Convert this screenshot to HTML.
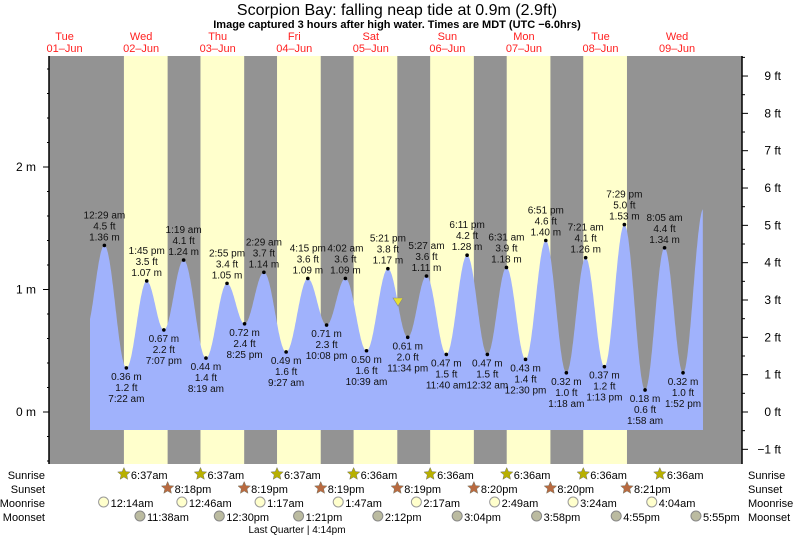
<!DOCTYPE html>
<html><head><meta charset="utf-8"><style>
html,body{margin:0;padding:0;background:#fff;}
svg{display:block;font-family:"Liberation Sans",sans-serif;}
</style></head><body>
<svg id="s" width="793" height="538" xmlns="http://www.w3.org/2000/svg">
<text x="397" y="15" font-size="16" text-anchor="middle">Scorpion Bay: falling  neap tide at 0.9m (2.9ft)</text>
<text x="397" y="28" font-size="11" font-weight="bold" text-anchor="middle">Image captured 3 hours after high water. Times are MDT (UTC −6.0hrs)</text>
<g id="g"></g>
</svg>
<script>
const NS="http://www.w3.org/2000/svg";
const g=document.getElementById('g');
function el(t,a,txt){const e=document.createElementNS(NS,t);for(const k in a)e.setAttribute(k,a[k]);if(txt!==undefined)e.textContent=txt;g.appendChild(e);return e;}
const X=h=>26.3+3.19*h, Y=m=>412-122.5*m;
const L=49,R=742,T=56,B=464;
el('rect',{x:L,y:T,width:R-L,height:B-T,fill:'#939393'});
for(let d=1;d<=7;d++){const a=X(d*24+6.6),b=X(d*24+20.3);el('rect',{x:a,y:T,width:b-a,height:B-T,fill:'#ffffcc'});}
const ex=[[0,18.5,0.66],
[1,0.48,1.36],[1,7.37,0.36],[1,13.75,1.07],[1,19.12,0.67],
[2,1.32,1.24],[2,8.32,0.44],[2,14.92,1.05],[2,20.42,0.72],
[3,2.48,1.14],[3,9.45,0.49],[3,16.25,1.09],[3,22.13,0.71],
[4,4.03,1.09],[4,10.65,0.50],[4,17.35,1.17],[4,23.57,0.61],
[5,5.45,1.11],[5,11.67,0.47],[5,18.18,1.28],
[6,0.53,0.47],[6,6.52,1.18],[6,12.5,0.43],[6,18.85,1.40],
[7,1.3,0.32],[7,7.35,1.26],[7,13.22,0.37],[7,19.48,1.53],
[8,1.97,0.18],[8,8.08,1.34],[8,13.87,0.32],[8,20.3,1.66]];
const pts=ex.map(e=>[e[0]*24+e[1],e[2]]);
function lv(h){for(let i=0;i<pts.length-1;i++){const[a,va]=pts[i],[b,vb]=pts[i+1];if(h>=a&&h<=b){const f=(1-Math.cos(Math.PI*(h-a)/(b-a)))/2;return va+(vb-va)*f;}}return pts[pts.length-1][1];}
const h0=(90-26.3)/3.19,h1=(703-26.3)/3.19;let d=`M90 430`;
for(let h=h0;h<=h1;h+=0.1)d+=` L${X(h).toFixed(1)} ${Y(lv(h)).toFixed(1)}`;
d+=` L703 430 Z`;el('path',{d,fill:'#a0b2fc'});
const lbl=[[1,0.48,1.36,'12:29 am'],[1,7.37,0.36,'7:22 am'],[1,13.75,1.07,'1:45 pm'],[1,19.12,0.67,'7:07 pm'],
[2,1.32,1.24,'1:19 am'],[2,8.32,0.44,'8:19 am'],[2,14.92,1.05,'2:55 pm'],[2,20.42,0.72,'8:25 pm'],
[3,2.48,1.14,'2:29 am'],[3,9.45,0.49,'9:27 am'],[3,16.25,1.09,'4:15 pm'],[3,22.13,0.71,'10:08 pm'],
[4,4.03,1.09,'4:02 am'],[4,10.65,0.50,'10:39 am'],[4,17.35,1.17,'5:21 pm'],[4,23.57,0.61,'11:34 pm'],
[5,5.45,1.11,'5:27 am'],[5,11.67,0.47,'11:40 am'],[5,18.18,1.28,'6:11 pm'],
[6,0.53,0.47,'12:32 am'],[6,6.52,1.18,'6:31 am'],[6,12.5,0.43,'12:30 pm'],[6,18.85,1.40,'6:51 pm'],
[7,1.3,0.32,'1:18 am'],[7,7.35,1.26,'7:21 am'],[7,13.22,0.37,'1:13 pm'],[7,19.48,1.53,'7:29 pm'],
[8,1.97,0.18,'1:58 am'],[8,8.08,1.34,'8:05 am'],[8,13.87,0.32,'1:52 pm']];
const ft={1.36:'4.5',0.36:'1.2',1.07:'3.5',0.67:'2.2',1.24:'4.1',0.44:'1.4',1.05:'3.4',0.72:'2.4',1.14:'3.7',0.49:'1.6',1.09:'3.6',0.71:'2.3',0.50:'1.6',1.17:'3.8',0.61:'2.0',1.11:'3.6',0.47:'1.5',1.28:'4.2',1.18:'3.9',0.43:'1.4',1.40:'4.6',0.32:'1.0',1.26:'4.1',0.37:'1.2',1.53:'5.0',0.18:'0.6',1.34:'4.4'};
lbl.forEach((l,i)=>{const x=X(l[0]*24+l[1]),y=Y(l[2]);el('circle',{cx:x,cy:y,r:1.8,fill:'#000'});
const high=(i>0?l[2]>lbl[i-1][2]:true)&&l[2]>0.9;const f=ft[l[2].toFixed(2)]||ft[l[2]]||'';
const a={'font-size':10,'text-anchor':'middle',fill:'#111'};
if(high){el('text',Object.assign({x,y:y-27},a),l[3]);el('text',Object.assign({x,y:y-16},a),f+' ft');el('text',Object.assign({x,y:y-5},a),l[2].toFixed(2)+' m');}
else{el('text',Object.assign({x,y:y+12},a),l[2].toFixed(2)+' m');el('text',Object.assign({x,y:y+23},a),f+' ft');el('text',Object.assign({x,y:y+34},a),l[3]);}
});
el('path',{d:'M393 298 L403 298 L398 306 Z',fill:'#e8e030',stroke:'#888','stroke-width':0.6});
el('line',{x1:L,y1:T,x2:L,y2:B,stroke:'#000','stroke-width':1.5});
el('line',{x1:R,y1:T,x2:R,y2:B,stroke:'#000','stroke-width':1.5});
for(let m=-0.4;m<=2.95;m+=0.2){const y=Y(m);if(y<T||y>B)continue;const maj=Math.abs(m-Math.round(m))<0.01;el('line',{x1:L-(maj?6:2),y1:y,x2:L,y2:y,stroke:'#000'});
if(maj)el('text',{x:36,y:y+4,'font-size':12,'text-anchor':'end'},Math.round(m)+' m');}
for(let f=-1.5;f<=9.6;f+=0.5){const y=412-37.33*f;if(y<T||y>B)continue;const maj=Math.abs(f-Math.round(f))<0.01;el('line',{x1:R,y1:y,x2:R+(maj?6:3),y2:y,stroke:'#000'});
if(maj)el('text',{x:781,y:y+4,'font-size':12,'text-anchor':'end'},(f<0?'−1':Math.round(f))+' ft');}
const dn=['Tue','Wed','Thu','Fri','Sat','Sun','Mon','Tue','Wed'];
dn.forEach((n,i)=>{const x=X(i*24+12);el('text',{x,y:40,'font-size':11,'text-anchor':'middle',fill:'#ff2020'},n);el('text',{x,y:52,'font-size':11,'text-anchor':'middle',fill:'#ff2020'},'0'+(i+1)+'–Jun');});
const rows=[['Sunrise',479],['Sunset',493],['Moonrise',507],['Moonset',521]];
rows.forEach(r=>{el('text',{x:45,y:r[1],'font-size':11,'text-anchor':'end'},r[0]);el('text',{x:748,y:r[1],'font-size':11},r[0]);});
function star(cx,cy,c){let p='';for(let k=0;k<10;k++){const a=-Math.PI/2+k*Math.PI/5,rr=k%2?3:6.5;p+=(k?'L':'M')+(cx+rr*Math.cos(a)).toFixed(1)+' '+(cy+rr*Math.sin(a)).toFixed(1);}el('path',{d:p+'Z',fill:c,stroke:'#776',"stroke-width":0.5});}
const srT=['6:37am','6:37am','6:37am','6:36am','6:36am','6:36am','6:36am','6:36am'];
srT.forEach((t,i)=>{const x=X((i+1)*24+6.6);star(x,474,'#b8b000');el('text',{x:x+7,y:479,'font-size':11},t);});
const ssT=['8:18pm','8:19pm','8:19pm','8:19pm','8:20pm','8:20pm','8:21pm'];
ssT.forEach((t,i)=>{const x=X((i+1)*24+20.3);star(x,488,'#b86a40');el('text',{x:x+7,y:493,'font-size':11},t);});
const mr=[[1,0.23,'12:14am'],[2,0.77,'12:46am'],[3,1.28,'1:17am'],[4,1.78,'1:47am'],[5,2.28,'2:17am'],[6,2.82,'2:49am'],[7,3.4,'3:24am'],[8,4.07,'4:04am']];
mr.forEach(m=>{const x=X(m[0]*24+m[1]);el('circle',{cx:x,cy:502,r:5,fill:'#ffffcc',stroke:'#999'});el('text',{x:x+7,y:507,'font-size':11},m[2]);});
const ms=[[1,11.63,'11:38am'],[2,12.5,'12:30pm'],[3,13.35,'1:21pm'],[4,14.2,'2:12pm'],[5,15.07,'3:04pm'],[6,15.97,'3:58pm'],[7,16.92,'4:55pm'],[8,17.92,'5:55pm']];
ms.forEach(m=>{const x=X(m[0]*24+m[1]);el('circle',{cx:x,cy:516,r:5,fill:'#bbbba0',stroke:'#888'});el('text',{x:x+7,y:521,'font-size':11},m[2]);});
el('text',{x:297,y:533,'font-size':10,'text-anchor':'middle'},'Last Quarter | 4:14pm');
</script>
</body></html>
